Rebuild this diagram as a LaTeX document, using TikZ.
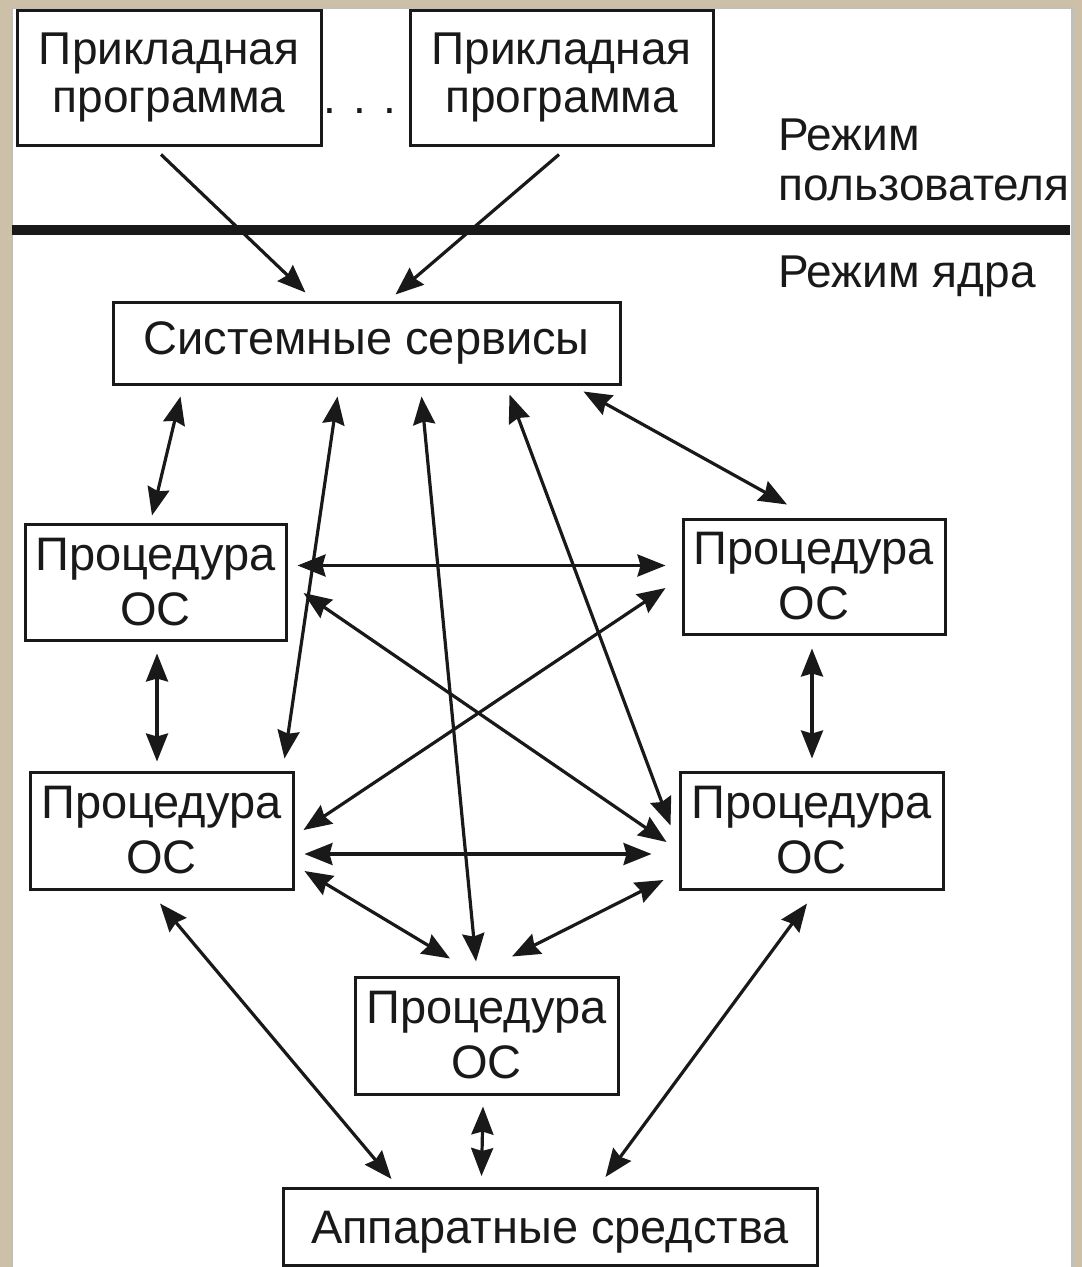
\documentclass[tikz,border=0pt]{standalone}
\usepackage{fontspec}
\setmainfont{Liberation Sans}
\usetikzlibrary{arrows.meta,calc}
\definecolor{framecol}{RGB}{204,193,168}
\definecolor{ink}{RGB}{25,25,25}
\begin{document}
\begin{tikzpicture}[x=1pt,y=-1pt,
  box/.style={draw=ink, line width=3pt, inner sep=0pt, align=center, text=ink,
    font=\fontsize{47}{55}\selectfont},
  appbox/.style={box, font=\fontsize{46}{48}\selectfont},
  link/.style={line width=3.2pt, draw=ink, {Stealth[length=28pt,width=22pt,inset=3pt]}-{Stealth[length=28pt,width=22pt,inset=3pt]}},
  oneway/.style={line width=3.2pt, draw=ink, -{Stealth[length=28pt,width=22pt,inset=3pt]}},
  modelabel/.style={anchor=base west, inner sep=0pt, text=ink, font=\fontsize{46}{50}\selectfont}
]
\useasboundingbox (0,0) rectangle (1082,1267);
% frame
\fill[framecol] (0,0) rectangle (1082,1267);
\fill[white] (12,8) rectangle (1072,1267);
\draw[black!25, line width=1.5pt] (12,1267) -- (12,8) -- (1072,8) -- (1072,1267);

% user / kernel separator
\draw[line width=10pt, draw=ink] (12,230) -- (1070,230);
\node[modelabel] (lu1) at (778,150) {Режим};
\node[modelabel] (lu2) at (778,200) {пользователя};
\node[modelabel] (lk) at (778,287) {Режим ядра};

% boxes
\node[appbox, minimum width=304pt, minimum height=135pt] (a1) at (169,77.5) {Прикладная\\программа};
\node[appbox, minimum width=303pt, minimum height=135pt] (a2) at (561.5,77.5) {Прикладная\\программа};
\node[anchor=base, inner sep=0pt, text=ink, font=\fontsize{46}{48}\selectfont] (dots) at (360,113) {. . .};

\node[box, minimum width=507pt, minimum height=82pt] (ss) at (366.5,343) {Системные сервисы};
\node[box, minimum width=261pt, minimum height=116pt] (p1) at (155.5,582) {Процедура\\ОС};
\node[box, minimum width=262pt, minimum height=115pt] (p2) at (814,576.5) {Процедура\\ОС};
\node[box, minimum width=263pt, minimum height=117pt] (p3) at (161.5,830.5) {Процедура\\ОС};
\node[box, minimum width=263pt, minimum height=117pt] (p4) at (811.5,830.5) {Процедура\\ОС};
\node[box, minimum width=263pt, minimum height=117pt] (p5) at (486.5,1035.5) {Процедура\\ОС};
\node[box, minimum width=534pt, minimum height=77pt, text depth=0pt] (hw) at (550,1227) {Аппаратные средства};

% connectors
\draw[oneway] ($(a1.south)+(-8,8)$) -- ($(ss.north west)+(194,-8)$);
\draw[oneway] ($(a2.south)+(-2.5,8)$) -- ($(ss.north west)+(284,-6)$);

\draw[link] ($(ss.south west)+(69,11)$) -- ($(p1.north)+(-3.5,-7)$);
\draw[link] ($(ss.south west)+(226,11)$) -- ($(p3.north east)+(-10,-12)$);
\draw[link] ($(ss.south west)+(310,11)$) -- ($(p5.north)+(-10.5,-14)$);
\draw[link] ($(ss.south west)+(398,9)$) -- ($(p4.west)+(-8,-5)$);
\draw[link] ($(ss.south east)+(-38,6)$) -- ($(p2.north)+(-27,-13)$);

\draw[link] ($(p1.east)+(10,-16.5)$) -- ($(p2.west)+(-16,-11)$);
\draw[link] ($(p1.east)+(16,11)$) -- ($(p4.west)+(-12,11.5)$);
\draw[link] ($(p2.west)+(-16,11.5)$) -- ($(p3.east)+(9,-0.5)$);
\draw[link] ($(p1.south)+(1.5,12)$) -- ($(p3.north)+(-4.5,-9)$);
\draw[link] ($(p2.south)+(-2,13)$) -- ($(p4.north)+(0.5,-12)$);
\draw[link] ($(p3.east)+(10,23.5)$) -- ($(p4.west)+(-27,23.5)$);
\draw[link] ($(p3.east)+(10,40.5)$) -- ($(p5.north)+(-36.5,-17)$);
\draw[link] ($(p4.west)+(-15,49.5)$) -- ($(p5.north)+(25.5,-19)$);

\draw[link] ($(p3.south)+(-1.5,13)$) -- ($(hw.north west)+(110,-8)$);
\draw[link] ($(p4.south)+(-4.5,13)$) -- ($(hw.north west)+(324,-10)$);
\draw[link] ($(p5.south)+(-3.5,11)$) -- ($(hw.north west)+(200,-11)$);
\end{tikzpicture}
\end{document}
